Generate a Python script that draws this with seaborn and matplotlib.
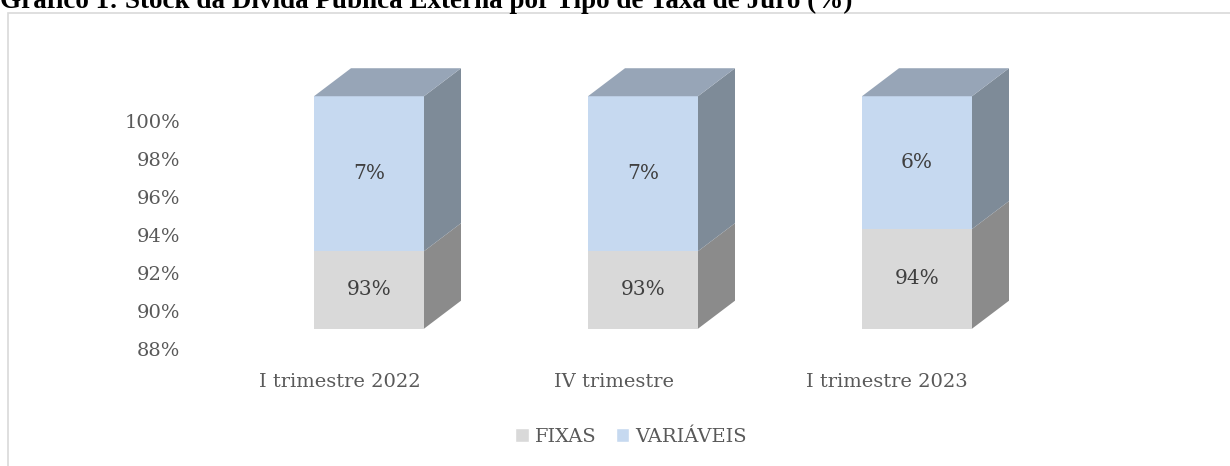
import matplotlib
matplotlib.use("Agg")
import matplotlib.pyplot as plt
import seaborn as sns
from matplotlib.patches import Patch, Polygon, Rectangle

# Data
categories = ["I trimestre 2022", "IV trimestre", "I trimestre 2023"]
fixas = [93, 93, 94]
variaveis = [7, 7, 6]
y_ticks = [88, 90, 92, 94, 96, 98, 100]

FIX_COLOR = "#d9d9d9"
VAR_COLOR = "#c6d9f0"
FIX_SIDE = "#8b8b8b"
VAR_SIDE = "#7e8b98"
TOP_COLOR = "#97a5b7"
TEXT_COLOR = "#595959"

sns.set_style("white")
plt.rcParams["font.family"] = ["DejaVu Serif"]

W, H = 1230, 466
fig = plt.figure(figsize=(W / 100, H / 100), dpi=100)


def fx(px):
    return px / W


def fy(py):
    return 1 - py / H


# outer frame of the chart area
fig.patches.append(Rectangle((fx(7.5), -0.1), 1.2, fy(12.7) + 0.1,
                             transform=fig.transFigure, fill=False,
                             edgecolor="#d9d9d9", linewidth=1.2))

# title sits at the very top, partly cut off as in the source screenshot
fig.text(0, fy(7.5), "Gráfico 1: Stock da Dívida Pública Externa por Tipo de Taxa de Juro (%)",
         fontsize=19.5, fontweight="bold", family="Liberation Serif",
         va="baseline", ha="left", color="black")

# axis with the value ticks and category labels
left_px, right_px = 186, 1100
ax = fig.add_axes([fx(left_px), fy(349), (right_px - left_px) / W, (349 - 120.8) / H])
ax.set_ylim(88, 100)
ax.set_yticks(y_ticks)
ax.set_yticklabels([f"{t}%" for t in y_ticks])
lo = -(340 - left_px) / 273.5
ax.set_xlim(lo, lo + (right_px - left_px) / 273.5)
ax.set_xticks(range(len(categories)))
ax.set_xticklabels(categories)
ax.tick_params(axis="y", length=0, pad=4, labelsize=14, labelcolor=TEXT_COLOR)
ax.tick_params(axis="x", length=0, pad=17, labelsize=14, labelcolor=TEXT_COLOR)
for s in ax.spines.values():
    s.set_visible(False)
ax.patch.set_alpha(0)

# axis holding the bars (front faces)
FLOOR, TOP = 89.5, 101.5
px_per_pct = 22.14
top_px = 328.7 - (TOP - FLOOR) * px_per_pct
ax2 = fig.add_axes([fx(left_px), fy(328.7), (right_px - left_px) / W, (328.7 - top_px) / H])
totals = [f + v for f, v in zip(fixas, variaveis)]
bar_w = 110 / 274
sns.barplot(x=categories, y=totals, color=VAR_COLOR, saturation=1, width=bar_w,
            errorbar=None, ax=ax2, linewidth=0)
sns.barplot(x=categories, y=fixas, color=FIX_COLOR, saturation=1, width=bar_w,
            errorbar=None, ax=ax2, linewidth=0)
lo2 = -(369 - left_px) / 274
ax2.set_xlim(lo2, lo2 + (right_px - left_px) / 274)
ax2.set_ylim(FLOOR, TOP)
ax2.axis("off")

# 3D depth faces
DX = 37 / 274
DY = 28 / px_per_pct
for i, (f, t) in enumerate(zip(fixas, totals)):
    p = ax2.patches[i]
    x0 = p.get_x()
    x1 = x0 + p.get_width()
    faces = [
        ([(x1, FLOOR), (x1 + DX, FLOOR + DY), (x1 + DX, f + DY), (x1, f)], FIX_SIDE),
        ([(x1, f), (x1 + DX, f + DY), (x1 + DX, t + DY), (x1, t)], VAR_SIDE),
        ([(x0, t), (x0 + DX, t + DY), (x1 + DX, t + DY), (x1, t)], TOP_COLOR),
    ]
    for verts, c in faces:
        ax2.add_patch(Polygon(verts, closed=True, facecolor=c, edgecolor="none",
                              clip_on=False))
    xc = x0 + p.get_width() / 2
    ax2.text(xc, (FLOOR + f) / 2, f"{fixas[i]}%", ha="center", va="center",
             fontsize=14.5, color="#404040")
    ax2.text(xc, (f + t) / 2, f"{variaveis[i]}%", ha="center", va="center",
             fontsize=14.5, color="#404040")

handles = [Patch(facecolor=FIX_COLOR, label="FIXAS"),
           Patch(facecolor=VAR_COLOR, label="VARIÁVEIS")]
leg = fig.legend(handles=handles, loc="center", bbox_to_anchor=(fx(631), fy(437)),
                 ncol=2, frameon=False, fontsize=14, handlelength=0.7,
                 handleheight=0.7, handletextpad=0.3, columnspacing=1.0)
for txt in leg.get_texts():
    txt.set_color(TEXT_COLOR)

fig.savefig("out.png", dpi=100)
